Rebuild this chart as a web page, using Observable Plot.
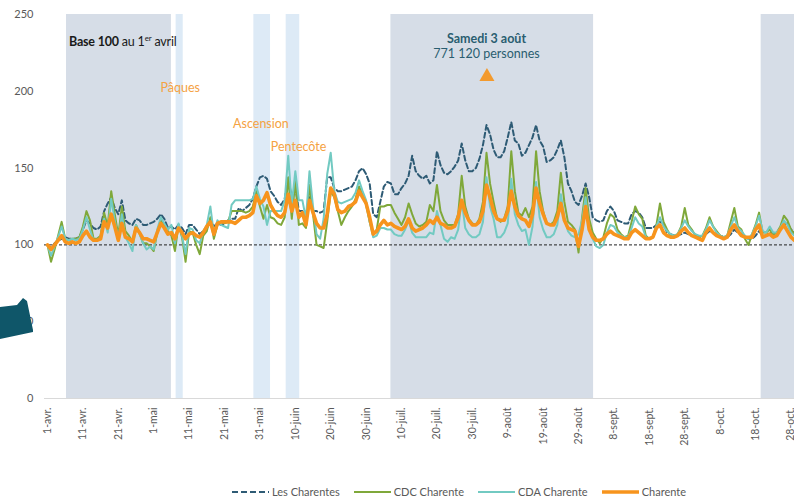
<!DOCTYPE html>
<html><head><meta charset="utf-8">
<script src="https://cdn.jsdelivr.net/npm/d3@7"></script>
<script src="https://cdn.jsdelivr.net/npm/@observablehq/plot@0.6"></script>
<style>
body{margin:0;background:#fff;font-family:Lato,"Open Sans",sans-serif;}
#wrap{position:relative;width:794px;height:503px;overflow:hidden;background:#fff;}
#base{position:absolute;left:69px;top:34px;font-size:12.5px;color:#1a1a1a;white-space:nowrap;letter-spacing:-0.2px;}
#base sup{font-size:8px;vertical-align:5px;line-height:0;}
#blob{position:absolute;left:0;top:296px;width:34px;height:44px;background:#0f5669;
  clip-path:polygon(0px 11px,17px 9px,23px 2px,27px 5px,33px 34px,33px 36px,0px 43px);}
#legend{position:absolute;left:232px;top:485px;display:flex;align-items:center;font-size:11px;color:#595959;white-space:nowrap;}
#legend .it{display:flex;align-items:center;margin-right:14px;}
#legend svg{margin-right:3px;}
</style></head><body>
<div id="wrap">
<div id="chart"></div>
<div id="base"><b>Base 100</b> au 1<sup>er</sup> avril</div>
<div id="blob"></div>
<div id="legend"></div>
</div>
<script>
// Daily index values, 1 April 2019 onward (base 100)
const startDate = "2019-04-01";
const seriesNames = ["Les Charentes", "CDC Charente", "CDA Charente", "Charente"];
const lesCharentes = [
100,98,101,103,104,105,104,
104,104,105,110,116,114,111,
110,112,122,127,131,124,120,
129,116,114,113,117,116,113,
113,114,115,117,120,117,111,
112,110,113,111,107,113,113,
110,107,109,111,116,112,114,
113,114,116,117,117,124,122,
124,126,130,138,144,145,143,
135,132,128,126,130,144,130,
138,122,122,120,131,122,122,
121,122,144,144,137,135,135,
136,137,138,142,148,150,146,
140,120,118,128,138,141,140,
133,133,137,140,145,158,148,
145,143,145,140,142,161,152,
147,146,148,151,155,166,155,
148,148,150,156,165,178,172,
162,157,157,161,170,180,168,
166,158,160,165,170,178,168,
164,154,155,157,162,168,157,
140,135,128,126,132,140,131,
118,116,115,116,122,125,122,
116,115,114,114,120,122,121,
118,111,111,111,113,115,114,
108,107,106,106,107,108,107,
106,105,105,106,107,109,108,
107,106,105,105,107,110,108,
107,105,104,104,106,109,106,
106,108,107,108,110,113,114,
110,108];
const cdcCharente = [
100,89,97,106,115,104,103,
104,104,105,112,122,116,104,
104,106,121,112,135,120,106,
125,109,106,102,113,108,101,
101,99,96,108,116,113,109,
106,96,113,105,89,109,108,
100,94,106,109,118,104,113,
115,114,115,122,122,122,122,
121,122,125,135,125,117,126,
118,117,114,113,118,144,117,
142,113,114,111,139,120,100,
99,98,115,135,131,122,113,
118,122,125,130,138,133,126,
115,107,110,125,125,126,126,
121,117,113,118,127,120,114,
112,113,115,126,122,139,122,
116,113,113,113,120,145,125,
117,114,113,117,128,160,140,
128,117,115,117,125,161,135,
121,119,124,118,125,161,135,
122,114,113,115,122,147,128,
115,113,110,95,118,137,117,
108,104,101,105,114,120,118,
110,107,105,106,115,125,120,
117,106,104,105,113,127,115,
110,106,106,107,112,124,113,
110,106,105,106,111,118,112,
109,106,105,106,115,124,112,
110,104,100,107,113,121,108,
108,110,107,108,112,119,116,
110,107];
const cdaCharente = [
100,93,99,105,112,104,103,
104,103,104,110,118,110,103,
103,105,117,108,130,116,103,
120,105,101,96,113,107,101,
97,99,97,110,118,114,110,
113,101,114,106,94,111,110,
103,101,109,113,125,107,116,
113,112,111,126,129,129,129,
129,129,130,138,130,125,113,
122,122,122,122,129,158,126,
148,129,129,117,148,125,107,
104,117,146,160,135,128,127,
128,129,130,134,142,135,129,
115,105,106,111,111,110,110,
107,106,106,110,116,108,105,
105,105,105,108,107,122,113,
104,102,105,104,110,129,111,
107,105,105,107,115,144,125,
117,105,105,108,114,143,120,
113,109,110,100,112,141,118,
110,105,105,107,113,133,118,
109,106,105,107,116,131,110,
104,99,98,100,108,113,112,
108,106,105,105,111,118,114,
112,105,104,105,112,118,112,
109,107,106,107,111,116,112,
109,107,106,106,110,116,112,
108,106,105,106,112,118,111,
109,106,104,107,112,119,109,
108,112,108,108,111,116,113,
108,106];
const charente = [
100,97,100,103,106,102,101,
102,101,102,106,109,105,103,
103,104,115,111,120,112,103,
114,105,104,102,111,108,104,
104,103,102,108,114,111,107,
108,104,111,108,104,107,108,
106,105,108,112,115,107,114,
115,115,115,115,114,116,118,
118,119,121,132,127,129,134,
126,122,119,118,121,133,122,
129,118,121,113,129,121,114,
111,111,120,137,133,123,121,
122,125,126,128,135,131,127,
118,107,109,113,116,113,114,
112,111,110,112,117,111,109,
110,111,113,116,114,118,114,
113,111,111,112,118,129,121,
116,113,113,115,122,139,131,
122,117,116,116,122,135,125,
119,117,116,112,120,137,127,
120,114,113,113,118,127,116,
111,110,109,99,110,125,110,
105,103,103,104,107,109,107,
106,105,104,104,108,110,108,
106,104,104,105,111,113,108,
106,105,105,106,109,111,108,
106,105,104,103,108,111,108,
106,105,104,105,110,113,109,
106,105,105,105,110,113,105,
106,107,105,106,110,113,109,
105,103];

// Holiday periods (shaded bands)
const bandStarts = ["2019-04-06T09:00Z","2019-05-07T08:00Z","2019-05-29T07:00Z","2019-06-07T10:00Z","2019-07-07T00:00Z","2019-10-19T14:00Z"];
const bandEnds   = ["2019-05-06T00:00Z","2019-05-09T08:00Z","2019-06-03T00:00Z","2019-06-11T06:00Z","2019-09-02T06:00Z","2019-11-05T00:00Z"];
const bandKinds  = ["vacances","pont","pont","pont","vacances","vacances"];

// X tick labels (every 10 days)
const tickDateStrings = ["2019-04-01","2019-04-11","2019-04-21","2019-05-01","2019-05-11","2019-05-21","2019-05-31","2019-06-10","2019-06-20","2019-06-30","2019-07-10","2019-07-20","2019-07-30","2019-08-09","2019-08-19","2019-08-29","2019-09-08","2019-09-18","2019-09-28","2019-10-08","2019-10-18","2019-10-28"];
const tickLabels = ["1-avr.","11-avr.","21-avr.","1-mai","11-mai","21-mai","31-mai","10-juin","20-juin","30-juin","10-juil.","20-juil.","30-juil.","9-août","19-août","29-août","8-sept.","18-sept.","28-sept.","8-oct.","18-oct.","28-oct."];
const yTicks = [0,50,100,150,200,250];

const colors = {"Les Charentes":"#2e5b75","CDC Charente":"#7fa83a","CDA Charente":"#72cac2","Charente":"#f7941d"};
const widths = {"Les Charentes":2,"CDC Charente":2,"CDA Charente":2,"Charente":3.6};

const start = new Date(startDate + "T00:00Z");
const allSeries = [lesCharentes, cdcCharente, cdaCharente, charente];
const rows = [];
allSeries.forEach((arr, k) => arr.forEach((v, i) => rows.push({date: d3.utcDay.offset(start, i), value: v, serie: seriesNames[k]})));
const bands = bandStarts.map((s, i) => ({x1: new Date(s), x2: new Date(bandEnds[i]), kind: bandKinds[i]}));
const tickDates = tickDateStrings.map(s => new Date(s + "T00:00Z"));
const labelMap = new Map(tickDates.map((d, i) => [+d, tickLabels[i]]));

const lineMark = name => Plot.line(rows.filter(r => r.serie === name), {
  x: "date", y: "value", stroke: colors[name], strokeWidth: widths[name],
  strokeDasharray: name === "Les Charentes" ? "5,3" : null, strokeLinejoin: "round", curve: "linear"
});

const chart = Plot.plot({
  width: 794, height: 470,
  marginLeft: 44, marginRight: 0, marginTop: 14, marginBottom: 72,
  style: {fontFamily: "Lato, 'Open Sans', sans-serif", background: "transparent", color: "#595959"},
  x: {type: "utc", domain: [start, new Date("2019-10-29T00:00Z")], range: [47, 794]},
  y: {domain: [0, 250]},
  marks: [
    Plot.rect(bands, {x1: "x1", x2: "x2", y1: 0, y2: 250, fill: d => d.kind === "vacances" ? "#d6dde7" : "#ddeaf6"}),
    Plot.ruleY([0], {stroke: "#d9d9d9", strokeWidth: 1}),
    Plot.ruleY([100], {stroke: "#222", strokeWidth: 1, strokeDasharray: "3,2"}),
    ...seriesNames.map(lineMark),
    Plot.axisY({ticks: yTicks, tickSize: 0, tickPadding: 11, fontSize: 11, fill: "#595959", label: null}),
    Plot.axisX({ticks: tickDates, tickFormat: d => labelMap.get(+d), tickRotate: -90, tickSize: 0, tickPadding: 9, fontSize: 10.5, fill: "#595959", label: null}),
    Plot.text(["Pâques"], {x: new Date("2019-05-08T12:00Z"), y: 202, text: d => d, fill: "#f5a242", fontSize: 12.5}),
    Plot.text(["Ascension"], {x: new Date("2019-05-31T07:00Z"), y: 178.5, text: d => d, fill: "#f5a242", fontSize: 12.5}),
    Plot.text(["Pentecôte"], {x: new Date("2019-06-10T22:00Z"), y: 163.5, text: d => d, fill: "#f5a242", fontSize: 12.5}),
    Plot.text(["Samedi 3 août"], {x: new Date("2019-08-03T00:00Z"), y: 234, text: d => d, fill: "#2a5d70", fontSize: 12.5, fontWeight: "bold"}),
    Plot.text(["771 120 personnes"], {x: new Date("2019-08-03T00:00Z"), y: 224, text: d => d, fill: "#2a5d70", fontSize: 12.5}),
    Plot.dot([0], {x: new Date("2019-08-03T03:00Z"), y: 209.5, symbol: "triangle", r: 5.6, fill: "#f39a2e", stroke: "none"})
  ]
});
document.getElementById("chart").append(chart);

// Legend
const legend = document.getElementById("legend");
seriesNames.forEach(name => {
  const it = document.createElement("div");
  it.className = "it";
  const dash = name === "Les Charentes" ? 'stroke-dasharray="6,3"' : "";
  const sw = name === "Charente" ? 3.6 : 2;
  it.innerHTML = `<svg width="37" height="6"><line x1="0" x2="37" y1="3" y2="3" stroke="${colors[name]}" stroke-width="${sw}" ${dash}/></svg><span>${name}</span>`;
  legend.append(it);
});
</script>
</body></html>
